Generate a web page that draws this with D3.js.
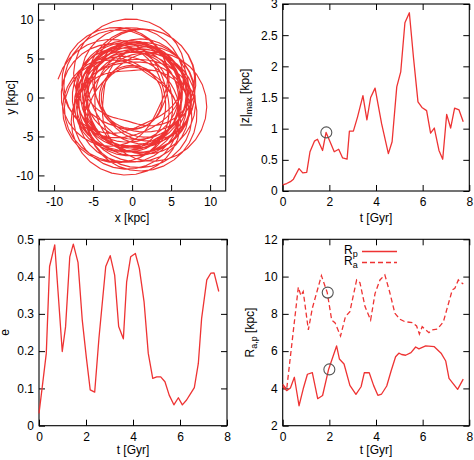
<!DOCTYPE html>
<html><head><meta charset="utf-8">
<script src="https://cdn.jsdelivr.net/npm/d3@7"></script>
<style>
body{margin:0;background:#fff}
svg{display:block}
text{font-family:"Liberation Sans",Arial,Helvetica,sans-serif;font-size:12px;fill:#000}
</style>
</head><body>
<svg id="c" width="474" height="460"></svg>
<script>
// ---------- data ----------
const zT   = [0.00,0.17,0.33,0.46,0.70,0.86,1.03,1.17,1.36,1.49,1.71,1.86,2.03,2.21,2.40,2.57,2.76,2.86,3.03,3.21,3.44,3.61,3.77,3.96,4.24,4.53,4.69,4.89,5.06,5.24,5.43,5.61,5.80,5.97,6.17,6.34,6.50,6.70,6.86,7.03,7.20,7.37,7.56,7.74];
const zMax = [0.10,0.12,0.15,0.19,0.36,0.29,0.30,0.63,0.80,0.83,0.65,0.94,0.79,0.63,0.67,0.53,0.51,0.96,0.96,1.19,1.53,1.14,1.50,1.65,1.08,0.60,0.79,1.67,1.91,2.70,2.86,2.13,1.43,1.34,1.29,0.93,1.01,0.65,0.51,1.23,1.01,1.33,1.30,1.11];

const eT   = [0.00,0.14,0.31,0.45,0.67,0.81,0.99,1.13,1.31,1.46,1.66,1.84,2.02,2.18,2.37,2.55,2.84,3.03,3.22,3.39,3.59,3.73,3.90,4.10,4.27,4.47,4.65,4.84,5.01,5.18,5.36,5.54,5.74,5.93,6.10,6.28,6.45,6.61,6.78,6.92,7.14,7.31,7.45,7.65];
const eVal = [0.033,0.105,0.194,0.427,0.485,0.360,0.199,0.265,0.453,0.487,0.438,0.284,0.180,0.096,0.090,0.234,0.427,0.456,0.404,0.266,0.233,0.386,0.453,0.462,0.422,0.333,0.194,0.127,0.131,0.131,0.118,0.082,0.056,0.075,0.056,0.069,0.086,0.102,0.167,0.288,0.391,0.409,0.410,0.360];

const rpT   = [0.00,0.17,0.33,0.50,0.70,0.88,1.06,1.27,1.50,1.71,1.97,2.31,2.43,2.63,2.88,3.14,3.36,3.50,3.71,3.90,4.08,4.24,4.46,4.65,4.84,4.98,5.10,5.27,5.50,5.70,5.84,6.13,6.50,6.79,6.99,7.13,7.50,7.74];
const rpVal = [4.10,3.88,4.02,4.60,3.07,3.98,4.76,4.85,3.45,3.62,5.03,6.28,5.58,5.31,4.16,3.68,4.09,4.85,4.84,4.15,3.63,3.70,4.13,4.95,5.70,5.89,5.82,5.78,5.92,6.22,6.12,6.28,6.24,5.89,5.47,4.54,3.95,4.50];

const raT   = [0.00,0.17,0.67,0.78,0.88,1.10,1.27,1.47,1.66,1.91,2.10,2.24,2.48,2.69,2.88,3.17,3.31,3.53,3.77,3.96,4.17,4.38,4.58,4.81,5.03,5.24,5.56,5.74,5.86,5.98,6.27,6.41,6.64,6.89,7.07,7.27,7.38,7.53,7.74];
const raVal = [4.22,3.95,9.43,8.98,9.20,7.14,8.30,9.20,10.05,9.14,7.67,7.53,6.81,7.85,8.12,9.82,9.68,8.39,7.67,9.10,9.82,10.09,9.20,8.03,7.71,7.58,7.53,7.35,6.92,7.31,6.99,7.14,7.19,7.58,8.39,9.28,9.37,9.82,9.60];

const orbitTicks = [-10,-5,0,5,10];
const tTicks = [0,2,4,6,8];
const zTicks = [0,0.5,1,1.5,2,2.5,3];
const eTicks = [0,0.1,0.2,0.3,0.4,0.5];
const rTicks = [2,4,6,8,10,12];

const markZ = [{t:1.87, v:0.94}];
const markR = [{t:1.93, v:9.14},{t:2.00, v:5.02}];

const legendNames = ["R","R"];
const legendSubs  = ["p","a"];

// ---------- styling ----------
const RED = "#ee3333";
const svg = d3.select("#c");

function panel(box, xDom, yDom, xTicks, yTicks){
  const x = d3.scaleLinear().domain(xDom).range([box.x0, box.x1]);
  const y = d3.scaleLinear().domain(yDom).range([box.y1, box.y0]);
  const g = svg.append("g");
  const fmt = d => String(+d.toFixed(3));
  const tl = 6;
  const axB = g.append("g").attr("transform",`translate(0,${box.y1})`)
    .call(d3.axisBottom(x).tickValues(xTicks).tickFormat(fmt).tickSize(-tl).tickPadding(6.5));
  const axT = g.append("g").attr("transform",`translate(0,${box.y0})`)
    .call(d3.axisTop(x).tickValues(xTicks).tickFormat("").tickSize(-tl));
  const axL = g.append("g").attr("transform",`translate(${box.x0},0)`)
    .call(d3.axisLeft(y).tickValues(yTicks).tickFormat(fmt).tickSize(-tl).tickPadding(5));
  const axR = g.append("g").attr("transform",`translate(${box.x1},0)`)
    .call(d3.axisRight(y).tickValues(yTicks).tickFormat("").tickSize(-tl));
  [axB,axT,axL,axR].forEach(a=>{
    a.select(".domain").remove();
    a.selectAll("line").attr("stroke","#000").attr("stroke-width",1);
    a.selectAll("text").attr("fill","#000").style("font-size","12px")
      .style("font-family",'"Liberation Sans",Arial,sans-serif');
  });
  g.append("rect").attr("x",box.x0).attr("y",box.y0)
    .attr("width",box.x1-box.x0).attr("height",box.y1-box.y0)
    .attr("fill","none").attr("stroke","#000").attr("stroke-width",1.1);
  return {x,y,g,box};
}

function xTitle(p, txt, baseY){
  p.g.append("text").attr("x",(p.box.x0+p.box.x1)/2).attr("y",baseY)
    .attr("text-anchor","middle").text(txt);
}
function yTitle(p, cx, parts){
  const cy = (p.box.y0+p.box.y1)/2;
  const t = p.g.append("text").attr("transform",`translate(${cx},${cy}) rotate(-90)`)
    .attr("text-anchor","middle").attr("dy","0.35em");
  parts.forEach(pt=>{
    const s = t.append("tspan").text(pt.t);
    if(pt.sub){ s.style("font-size","9px").attr("dy",3); }
    if(pt.back){ s.attr("dy",-3); }
  });
}

// ---------- panel 1 : orbit (peri/apo radii from the Rp/Ra series) ----------
const p1 = panel({x0:38.5,x1:225.7,y0:4,y1:191},[-12,12],[-12,12],orbitTicks,orbitTicks);
{
  const ext = [];
  const n = Math.min(rpVal.length, raVal.length);
  for(let i=0;i<n;i++){ ext.push(rpVal[i]); ext.push(raVal[i]); }
  const dphi = 160*Math.PI/180, phi0 = 55*Math.PI/180, steps = 18;
  const pts = [];
  for(let k=0;k<ext.length-1;k++){
    for(let j=0;j<steps;j++){
      const s=j/steps;
      const r = ext[k] + (ext[k+1]-ext[k])*(1-Math.cos(Math.PI*s))/2;
      const a = phi0 + dphi*(k+s);
      pts.push([r*Math.cos(a), r*Math.sin(a)]);
    }
  }
  const line = d3.line().x(d=>p1.x(d[0])).y(d=>p1.y(d[1]));
  p1.g.append("path").attr("d",line(pts)).attr("fill","none")
    .attr("stroke",RED).attr("stroke-width",1.15).attr("stroke-linejoin","round");
}
xTitle(p1,"x [kpc]",222);
yTitle(p1,11,[{t:"y [kpc]"}]);

// ---------- panel 2 : |z|max ----------
const p2 = panel({x0:282.7,x1:469.3,y0:4,y1:191},[0,8],[0,3],tTicks,zTicks);
p2.g.append("path").datum(zT.map((t,i)=>[t,zMax[i]]))
  .attr("d",d3.line().x(d=>p2.x(d[0])).y(d=>p2.y(d[1])))
  .attr("fill","none").attr("stroke",RED).attr("stroke-width",1.3).attr("stroke-linejoin","round");
p2.g.selectAll("circle.m").data(markZ).join("circle")
  .attr("cx",d=>p2.x(d.t)).attr("cy",d=>p2.y(d.v)).attr("r",5.5)
  .attr("fill","none").attr("stroke","#555").attr("stroke-width",1.1);
xTitle(p2,"t [Gyr]",222);
yTitle(p2,245,[{t:"|z|"},{t:"max",sub:true},{t:" [kpc]",back:true}]);

// ---------- panel 3 : e ----------
const p3 = panel({x0:39,x1:227,y0:239.3,y1:425.7},[0,8],[0,0.5],tTicks,eTicks);
p3.g.append("path").datum(eT.map((t,i)=>[t,eVal[i]]))
  .attr("d",d3.line().x(d=>p3.x(d[0])).y(d=>p3.y(d[1])))
  .attr("fill","none").attr("stroke",RED).attr("stroke-width",1.3).attr("stroke-linejoin","round");
xTitle(p3,"t [Gyr]",454);
yTitle(p3,4.5,[{t:"e"}]);

// ---------- panel 4 : Rp / Ra ----------
const p4 = panel({x0:282.7,x1:469.3,y0:239.3,y1:425.7},[0,8],[2,12],tTicks,rTicks);
const l4 = d3.line().x(d=>p4.x(d[0])).y(d=>p4.y(d[1]));
p4.g.append("path").datum(rpT.map((t,i)=>[t,rpVal[i]])).attr("d",l4)
  .attr("fill","none").attr("stroke",RED).attr("stroke-width",1.3).attr("stroke-linejoin","round");
p4.g.append("path").datum(raT.map((t,i)=>[t,raVal[i]])).attr("d",l4)
  .attr("fill","none").attr("stroke",RED).attr("stroke-width",1.3).attr("stroke-dasharray","5,3");
p4.g.selectAll("circle.m").data(markR).join("circle")
  .attr("cx",d=>p4.x(d.t)).attr("cy",d=>p4.y(d.v)).attr("r",5.5)
  .attr("fill","none").attr("stroke","#555").attr("stroke-width",1.1);
// legend
legendNames.forEach((nm,i)=>{
  const by = 254 + i*11;
  const t = p4.g.append("text").attr("x",344).attr("y",by);
  t.append("tspan").text(nm);
  t.append("tspan").text(legendSubs[i]).style("font-size","9px").attr("dy",2.5);
  p4.g.append("line").attr("x1",362).attr("x2",397).attr("y1",by-2.5).attr("y2",by-2.5)
    .attr("stroke",RED).attr("stroke-width",1.3).attr("stroke-dasharray", i===1?"5,3":null);
});
xTitle(p4,"t [Gyr]",454);
yTitle(p4,250,[{t:"R"},{t:"a,p",sub:true},{t:" [kpc]",back:true}]);
</script>
</body></html>
